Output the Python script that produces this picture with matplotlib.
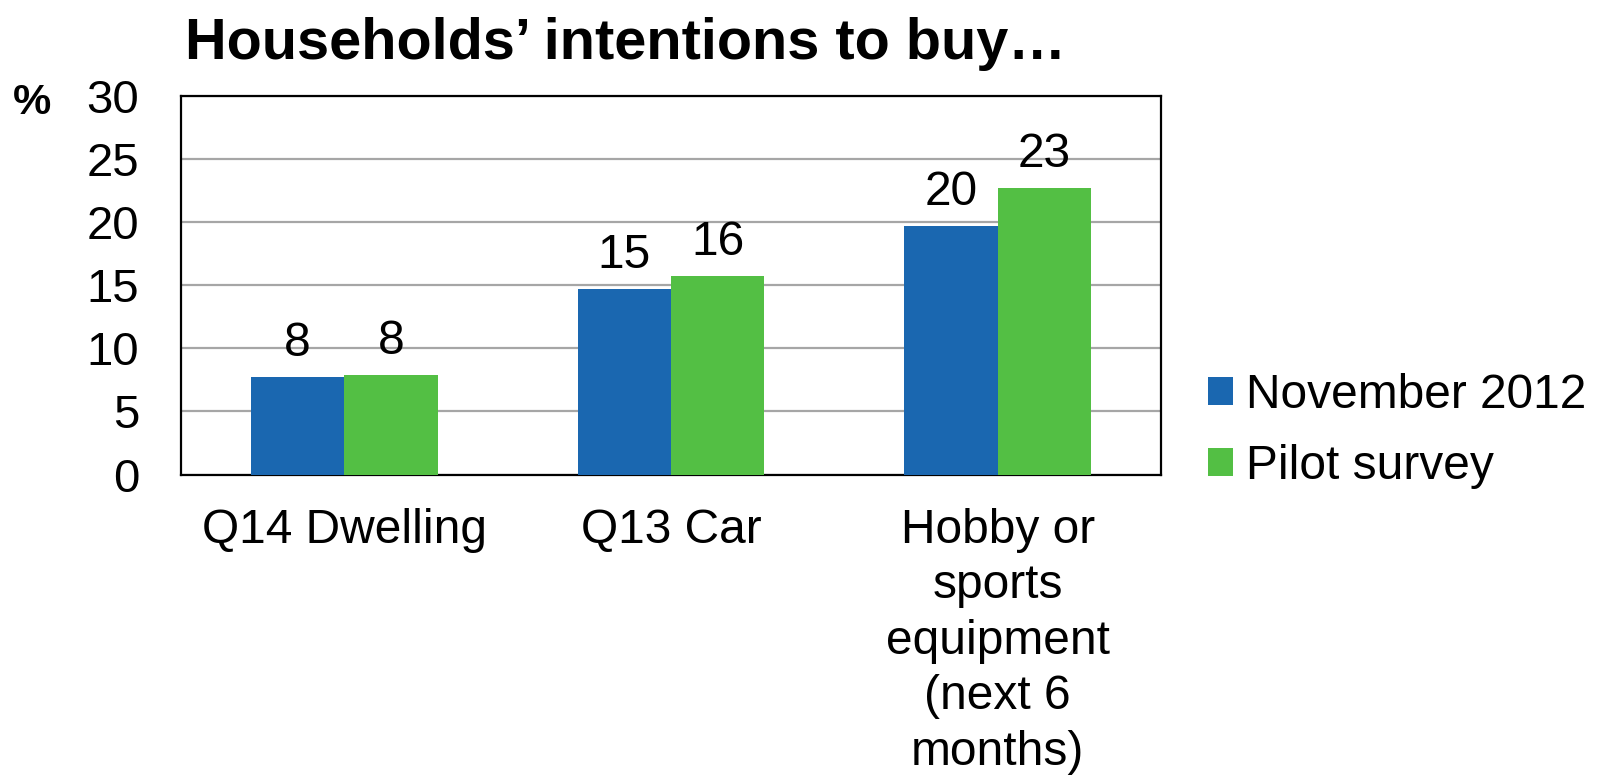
import matplotlib
matplotlib.use("Agg")
import matplotlib.pyplot as plt
import numpy as np

categories = ["Q14 Dwelling", "Q13 Car", "Hobby or\nsports\nequipment\n(next 6\nmonths)"]
series_names = ["November 2012", "Pilot survey"]
nov2012 = [7.7, 14.7, 19.7]
pilot = [7.9, 15.7, 22.7]
yticks = [0, 5, 10, 15, 20, 25, 30]

colors = ["#1A67B0", "#53BF44"]

plt.rcParams['font.family'] = ['Liberation Sans', 'DejaVu Sans']

fig = plt.figure(figsize=(16, 7.77), dpi=100)
ax = fig.add_axes([0.113, 0.3893, 0.6127, 0.4871])

x = np.arange(len(categories))
w = 0.286
b1 = ax.bar(x - w/2, nov2012, w, color=colors[0], label=series_names[0], zorder=3)
b2 = ax.bar(x + w/2, pilot, w, color=colors[1], label=series_names[1], zorder=3)

for bars, vals in ((b1, nov2012), (b2, pilot)):
    ax.bar_label(bars, labels=[f"{v:.0f}" for v in vals], padding=8, fontsize=34.5, zorder=4)

ax.set_xlim(-0.5, 2.5)
ax.set_ylim(0, 30)
ax.set_yticks(yticks)
ax.set_yticklabels([str(t) for t in yticks])
ax.set_xticks(x)
ax.set_xticklabels(categories, linespacing=1.3)
ax.tick_params(axis='y', length=0, pad=30, labelsize=34)
ax.tick_params(axis='x', length=0, pad=24, labelsize=34.5)
ax.yaxis.grid(True, color="#A6A6A6", linewidth=1.6, zorder=0)
ax.set_axisbelow(True)
for s in ax.spines.values():
    s.set_color("black")
    s.set_linewidth(1.6)

fig.text(0.391, 0.943, "Households\u2019 intentions to buy\u2026", fontsize=41.5, fontweight='bold',
         ha='center', va='center')
fig.text(0.008, 0.868, "%", fontsize=31, fontweight='bold', ha='left', va='center')

fig.legend(handles=[b1, b2], labels=series_names, loc='center left',
           bbox_to_anchor=(0.755, 0.445), frameon=False, fontsize=34.5,
           handlelength=0.52, handleheight=0.52, handletextpad=0.27,
           labelspacing=0.55, borderaxespad=0, borderpad=0)

fig.savefig("out.png", dpi=100)
